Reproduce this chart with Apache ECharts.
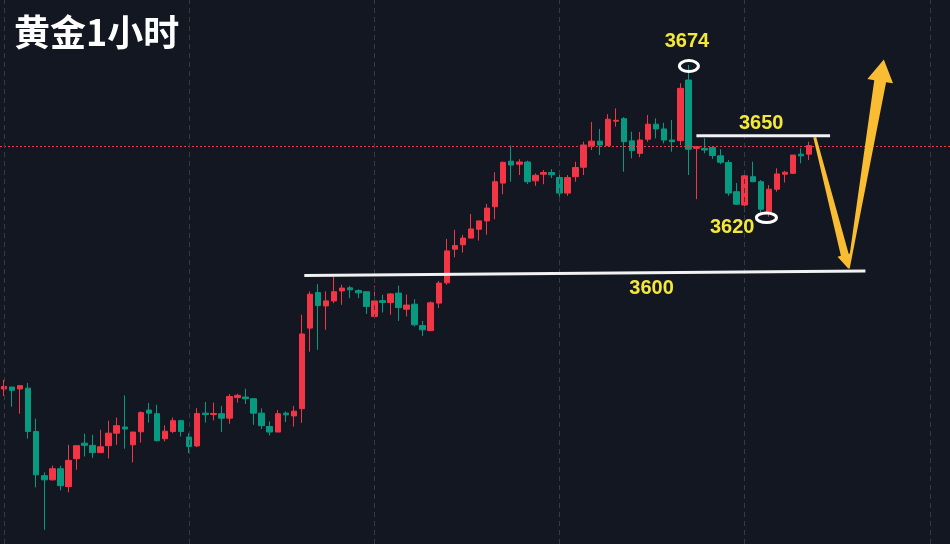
<!DOCTYPE html>
<html><head><meta charset="utf-8">
<script src="https://cdn.jsdelivr.net/npm/echarts@6/dist/echarts.min.js"></script>
<style>html,body{margin:0;padding:0;background:#131722;overflow:hidden}#c{width:950px;height:544px}</style>
</head><body><div id="c"></div>
<script>
// ---- Data (gold, 1 hour candles) ----
const opens = [3557.4,3558.1,3557.4,3557.7,3542.1,3526.2,3524.7,3528.7,3522.3,3532.3,
3537.9,3537.1,3534.5,3537.0,3541.5,3543.7,3537.3,3542.0,3549.8,3548.5,
3539.5,3542.1,3546.0,3540.1,3536.9,3548.7,3548.2,3548.5,3546.9,3554.3,
3554.5,3553.9,3548.7,3543.9,3541.9,3548.7,3547.7,3550.3,3579.3,3592.1,
3587.3,3589.1,3592.7,3593.8,3592.8,3592.4,3583.5,3589.2,3588.5,3591.9,
3586.1,3587.9,3580.2,3578.4,3588.3,3595.6,3607.7,3609.3,3611.7,3614.9,
3617.9,3623.0,3631.5,3639.4,3638.3,3639.1,3632.3,3634.7,3635.3,3633.5,
3627.9,3633.8,3637.2,3644.9,3646.6,3645.0,3653.8,3654.7,3646.7,3642.2,
3647.3,3652.7,3651.0,3647.0,3646.8,3668.6,3644.0,3644.0,3644.3,3641.3,
3638.9,3628.4,3623.6,3633.8,3632.0,3621.2,3629.3,3634.7,3635.0,3641.9,
3641.9];
const closes = [3558.3,3556.9,3558.6,3542.1,3526.5,3524.7,3528.7,3522.6,3531.7,3537.0,
3537.1,3534.5,3536.6,3541.5,3544.2,3543.0,3541.9,3548.9,3548.7,3538.8,
3542.2,3546.0,3542.1,3536.7,3548.6,3548.2,3548.6,3546.9,3554.7,3555.1,
3553.9,3548.7,3544.2,3541.9,3548.5,3548.1,3549.4,3577.2,3591.5,3587.4,
3589.1,3592.4,3593.7,3593.1,3592.0,3587.1,3589.1,3588.5,3591.6,3586.7,
3587.6,3580.5,3578.7,3588.4,3595.5,3607.1,3609.0,3611.7,3615.0,3617.9,
3622.5,3632.0,3639.0,3638.0,3639.1,3632.0,3634.3,3635.3,3634.5,3627.9,
3633.5,3637.1,3645.2,3646.6,3645.2,3654.5,3654.1,3646.4,3643.2,3647.0,
3652.7,3651.0,3647.0,3646.4,3665.6,3643.7,3644.6,3643.4,3641.4,3639.0,
3627.9,3623.9,3634.1,3632.0,3622.1,3629.3,3634.8,3635.4,3641.6,3641.3,
3645.0];
const lows = [3554.9,3551.0,3548.5,3539.5,3522.0,3506.7,3524.4,3520.9,3520.2,3528.3,
3533.1,3532.6,3534.4,3532.4,3537.3,3535.9,3531.0,3538.1,3545.3,3538.5,
3538.5,3541.5,3540.3,3534.3,3536.5,3545.3,3546.1,3541.9,3544.9,3552.5,
3552.0,3544.5,3543.0,3540.7,3541.9,3545.5,3543.9,3545.2,3570.8,3571.5,
3578.7,3588.3,3587.7,3590.1,3590.1,3584.4,3583.5,3584.9,3584.1,3581.9,
3583.5,3579.9,3576.5,3578.4,3586.5,3594.9,3604.8,3606.5,3611.7,3610.8,
3612.9,3618.5,3627.5,3632.0,3634.4,3631.2,3630.5,3631.1,3633.3,3626.6,
3626.9,3632.0,3634.4,3643.4,3641.6,3645.0,3651.8,3635.6,3640.4,3640.8,
3646.4,3647.6,3645.8,3642.8,3645.2,3634.4,3625.7,3642.2,3640.2,3638.3,
3626.9,3623.6,3621.2,3632.0,3620.7,3619.4,3628.4,3631.7,3634.8,3638.6,
3639.8];
const highs = [3560.7,3558.1,3558.6,3559.6,3546.7,3527.4,3529.8,3529.8,3537.3,3537.0,
3541.3,3540.9,3542.7,3546.0,3547.1,3555.1,3541.9,3549.3,3552.4,3551.7,
3544.3,3547.1,3546.3,3541.5,3550.5,3552.7,3552.5,3551.3,3555.6,3555.7,
3557.5,3554.1,3550.4,3545.7,3549.8,3549.3,3551.3,3584.1,3592.5,3595.1,
3592.5,3597.9,3594.9,3594.5,3593.3,3592.4,3594.5,3591.3,3591.9,3594.6,
3591.4,3589.7,3581.9,3588.9,3596.3,3611.4,3614.7,3612.9,3620.4,3617.9,
3624.0,3635.4,3639.2,3645.0,3640.1,3639.6,3635.0,3636.2,3636.5,3635.3,
3634.4,3639.2,3646.4,3653.5,3651.0,3656.3,3658.4,3655.2,3650.0,3649.9,
3656.0,3654.8,3653.2,3654.2,3667.4,3674.0,3644.6,3647.6,3644.3,3643.7,
3639.8,3631.5,3634.4,3639.2,3632.6,3630.8,3636.8,3635.9,3641.6,3644.0,
3646.4];
const levelLabels = ['3674', '3650', '3620', '3600'];
const titleText = '黄金1小时';

// ---- Layout / styling (not data) ----
const totalSlots = 118;
const categories = Array.from({length: totalSlots}, (_, i) => 'H' + (i + 1));
const candleData = categories.map((c, i) => i < opens.length ? [opens[i], closes[i], lows[i], highs[i]] : '-');
const gridLineIdx = [0, 23, 46, 69, 92, 115];
const lastClose = closes[closes.length - 1];
const UP = '#f23645', DOWN = '#089981';
const YELLOW = '#f4e83a', ARROW = '#f9bd33';

const chart = echarts.init(document.getElementById('c'), null, {renderer: 'canvas'});
chart.setOption({
  backgroundColor: '#131722',
  animation: false,
  grid: {left: -0.74, top: 0, width: 954, height: 544},
  xAxis: {type: 'category', data: categories, boundaryGap: true, show: false},
  yAxis: {type: 'value', min: 3501.6, max: 3697.4, show: false, splitLine: {show: false}},
  series: [
    {
      type: 'line', data: categories.map(() => '-'), z: 1, silent: true, showSymbol: false,
      markLine: {
        silent: true, symbol: ['none', 'none'], label: {show: false},
        lineStyle: {color: '#363a45', type: [5, 4], width: 1},
        data: gridLineIdx.map(i => ({xAxis: categories[i]}))
      }
    },
    {
      type: 'candlestick', data: candleData, z: 2, barWidth: 6,
      itemStyle: {color: UP, color0: DOWN, borderColor: UP, borderColor0: DOWN, borderWidth: 1}
    }
  ]
});

// annotation anchors in data coordinates (category index, price)
const annot = {
  peakEllipse: [85.07, 3673.6],
  lowEllipse: [94.7, 3619.0],
  line3650: [[86.0, 3648.5], [102.6, 3648.5]],
  line3600: [[37.3, 3598.2], [107.0, 3599.9]],
  labels: [[84.82, 3682.3], [94.04, 3653.1], [90.45, 3615.7], [80.43, 3593.4]],
  arrow1: [[100.7, 3648.0], [104.86, 3600.8]],
  arrow2: [[104.92, 3600.8], [109.28, 3676.0]]
};
const xa = chart.convertToPixel({xAxisIndex: 0}, 0);
const xb = chart.convertToPixel({xAxisIndex: 0}, 1);
function px(p) { return [xa + p[0] * (xb - xa), chart.convertToPixel({yAxisIndex: 0}, p[1])]; }
function arrowPts(t, p, w0, w1, hl, hw) {
  const dx = p[0] - t[0], dy = p[1] - t[1], L = Math.hypot(dx, dy);
  const ux = dx / L, uy = dy / L, nx = -uy, ny = ux;
  const b = [p[0] - ux * hl, p[1] - uy * hl];
  return [
    [t[0] + nx * w0 / 2, t[1] + ny * w0 / 2],
    [b[0] + nx * w1 / 2, b[1] + ny * w1 / 2],
    [b[0] + nx * hw / 2, b[1] + ny * hw / 2],
    p,
    [b[0] - nx * hw / 2, b[1] - ny * hw / 2],
    [b[0] - nx * w1 / 2, b[1] - ny * w1 / 2],
    [t[0] - nx * w0 / 2, t[1] - ny * w0 / 2]
  ];
}
const g = [];
// last price line (red dotted), positioned from the last close through the y axis
const priceY = Math.round(chart.convertToPixel({yAxisIndex: 0}, lastClose)) + 0.5;
g.push({type: 'line', z: 3, silent: true, shape: {x1: 0, y1: priceY, x2: 950, y2: priceY},
  style: {stroke: UP, lineWidth: 1, lineDash: [2, 2]}});
g.push({type: 'text', left: 14, top: 14, z: 100,
  style: {text: titleText, fill: '#ffffff', font: 'bold 36px "Noto Sans CJK SC"'}});
[annot.line3650, annot.line3600].forEach(l => {
  const a = px(l[0]), b = px(l[1]);
  g.push({type: 'line', z: 100, shape: {x1: a[0], y1: a[1], x2: b[0], y2: b[1]},
    style: {stroke: '#f2f2f2', lineWidth: 3}});
});
[[annot.peakEllipse, 9.5, 5.5], [annot.lowEllipse, 10, 4.8]].forEach(e => {
  const c = px(e[0]);
  g.push({type: 'ellipse', z: 100, shape: {cx: c[0], cy: c[1], rx: e[1], ry: e[2]},
    style: {fill: 'none', stroke: '#ffffff', lineWidth: 3}});
});
annot.labels.forEach((p, i) => {
  const c = px(p);
  g.push({type: 'text', z: 100, x: c[0], y: c[1],
    style: {text: levelLabels[i], fill: YELLOW, font: 'bold 20px "Liberation Sans"', align: 'center', verticalAlign: 'middle'}});
});
g.push({type: 'polygon', z: 100, shape: {points: arrowPts(px(annot.arrow1[0]), px(annot.arrow1[1]), 3, 8, 14, 15)},
  style: {fill: ARROW}});
g.push({type: 'polygon', z: 100, shape: {points: arrowPts(px(annot.arrow2[0]), px(annot.arrow2[1]), 2, 12, 22, 26)},
  style: {fill: ARROW}});
chart.setOption({graphic: g});
</script>
</body></html>
